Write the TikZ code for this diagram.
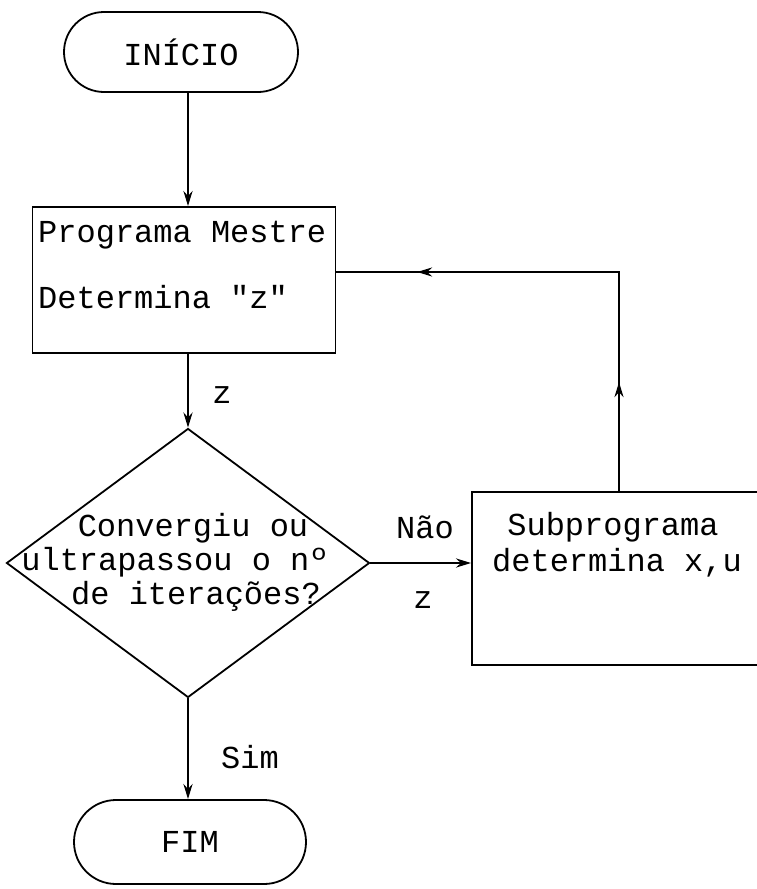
\documentclass[tikz,border=0pt]{standalone}
\usepackage{fontspec}
\setmonofont{Liberation Mono}
\usetikzlibrary{shapes.geometric,shapes.misc,arrows.meta,decorations.markings}

\begin{document}
\begin{tikzpicture}[x=1pt,y=-1pt,
  txt/.style={font=\ttfamily\fontsize{32}{36}\selectfont, inner sep=0pt},
  terminal/.style={rounded rectangle, draw, line width=1.8pt, inner sep=0pt},
  procbox/.style={rectangle, draw, line width=1.8pt, inner sep=0pt},
  decision/.style={diamond, draw, line width=1.8pt, inner sep=0pt},
  tip/.style={Stealth[length=15pt,width=9pt]},
  flow/.style={line width=2.6pt, -{Stealth[length=15pt,width=9pt]}},
  loopline/.style={line width=2.4pt, postaction={decorate},
    decoration={markings,
      mark=at position 109pt with {\arrow{Stealth[length=15pt,width=9pt]}},
      mark=at position 421pt with {\arrow{Stealth[length=15pt,width=9pt]}}}}
]
\clip (0,0) rectangle (757,889);

% shapes
\node[terminal, minimum width=234pt, minimum height=80pt] (start) at (181,52) {};
\node[txt] (starttxt) at (start.center) {INÍCIO};

\node[procbox, minimum width=303pt, minimum height=146pt] (mestre) at (184,280) {};
\node[txt, anchor=west] (mestre1) at (38,235) {Programa Mestre};
\node[txt, anchor=west] (mestre2) at (38,297) {Determina "z"};

\node[decision, minimum width=363pt, minimum height=269pt] (dia) at (188,563) {};
\node[txt] (dia1) at (193,528) {Convergiu ou};
\node[txt] (dia2) at (175,562) {ultrapassou o nº};
\node[txt] (dia3) at (196,596) {de iterações?};

\node[procbox, minimum width=303pt, minimum height=173pt] (sub) at (623.5,578.5) {};
\node[txt] (sub1) at (613,527) {Subprograma};
\node[txt] (sub2) at (617,563) {determina x,u};

\node[terminal, minimum width=232pt, minimum height=84pt] (fim) at (190,842) {};
\node[txt] (fimtxt) at (fim.center) {FIM};

% connector labels
\node[txt] (lz1) at (222,395) {z};
\node[txt] (lnao) at (425,527) {Não};
\node[txt] (lz2) at (423,600) {z};
\node[txt] (lsim) at (250,757) {Sim};

% connectors
\draw[flow] (start.south -| dia.north) -- (mestre.north -| dia.north);
\draw[flow] (mestre.south -| dia.north) -- (dia.north);
\draw[flow] (dia.east) -- (sub.west |- dia.east);
\draw[flow] (dia.south) -- (fim.north -| dia.south);

\coordinate (corner) at (619,272);
\draw[loopline] (sub.north -| corner) -- (corner) -- (mestre.east |- corner);
\end{tikzpicture}
\end{document}
